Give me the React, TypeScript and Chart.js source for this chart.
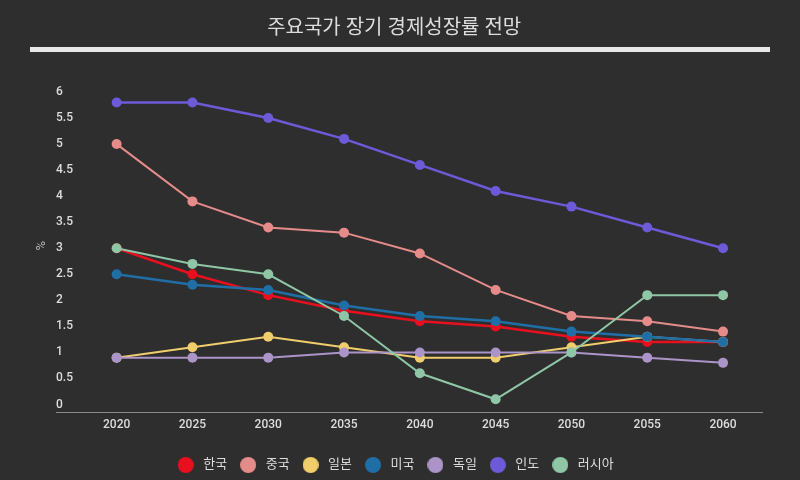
import { useEffect, useRef } from "react";
import { Chart, registerables } from "chart.js";

Chart.register(...registerables);

const TITLE = "주요국가 장기 경제성장률 전망";
const Y_TITLE = "%";
const YEARS = [2020, 2025, 2030, 2035, 2040, 2045, 2050, 2055, 2060];
const Y_TICKS = [0, 0.5, 1, 1.5, 2, 2.5, 3, 3.5, 4, 4.5, 5, 5.5, 6];

const SERIES_NAMES = ["한국", "중국", "일본", "미국", "독일", "인도", "러시아"];
const KOREA = [3.0, 2.5, 2.1, 1.8, 1.6, 1.5, 1.3, 1.2, 1.2];
const CHINA = [5.0, 3.9, 3.4, 3.3, 2.9, 2.2, 1.7, 1.6, 1.4];
const JAPAN = [0.9, 1.1, 1.3, 1.1, 0.9, 0.9, 1.1, 1.3, 1.2];
const USA = [2.5, 2.3, 2.2, 1.9, 1.7, 1.6, 1.4, 1.3, 1.2];
const GERMANY = [0.9, 0.9, 0.9, 1.0, 1.0, 1.0, 1.0, 0.9, 0.8];
const INDIA = [5.8, 5.8, 5.5, 5.1, 4.6, 4.1, 3.8, 3.4, 3.0];
const RUSSIA = [3.0, 2.7, 2.5, 1.7, 0.6, 0.1, 1.0, 2.1, 2.1];

const SERIES_VALUES = [KOREA, CHINA, JAPAN, USA, GERMANY, INDIA, RUSSIA];
const COLORS = ["#e8101f", "#e58c8a", "#f1ce6c", "#1f6fa6", "#ab94c8", "#6c5ad8", "#8ec6a6"];
const LINE_WIDTHS = [2.5, 2, 2, 2.5, 2, 2.5, 2];

const BG = "#2e2e2e";
const TEXT = "#dddddd";
const FONT = "Roboto, 'Noto Sans CJK KR', sans-serif";

const decorPlugin = {
  id: "decor",
  beforeDraw(chart: any) {
    const { ctx, width, height } = chart;
    ctx.save();
    ctx.fillStyle = BG;
    ctx.fillRect(0, 0, width, height);
    ctx.fillStyle = "#e8e8e8";
    ctx.fillRect(30, 47, width - 60, 5);
    ctx.restore();
  },
};

function circleImage(color: string, d: number) {
  const c = document.createElement("canvas");
  c.width = d;
  c.height = d;
  const g = c.getContext("2d")!;
  g.fillStyle = color;
  g.beginPath();
  g.arc(d / 2, d / 2, d / 2, 0, Math.PI * 2);
  g.fill();
  return c;
}

export default function App() {
  const ref = useRef<HTMLCanvasElement | null>(null);

  useEffect(() => {
    document.body.style.margin = "0";
    document.body.style.background = BG;
    if (!ref.current) return;
    const n = SERIES_NAMES.length;
    const legendImgs = COLORS.map((c) => circleImage(c, 16));
    const datasets = SERIES_NAMES.map((name, i) => ({
      label: name,
      data: YEARS.map((y, j) => ({ x: y, y: SERIES_VALUES[i][j] })),
      borderColor: COLORS[i],
      backgroundColor: COLORS[i],
      pointBackgroundColor: COLORS[i],
      pointBorderColor: COLORS[i],
      borderWidth: LINE_WIDTHS[i],
      pointRadius: 5,
      pointBorderWidth: 0,
      pointStyle: "circle",
      tension: 0,
      order: n - 1 - i,
    }));
    const defaultLabels = (Chart as any).defaults.plugins.legend.labels.generateLabels;
    const chart = new Chart(ref.current, {
      type: "line",
      data: { datasets },
      plugins: [decorPlugin],
      options: {
        responsive: false,
        animation: false,
        devicePixelRatio: 1,
        layout: { padding: { left: 26.4, right: 38, top: 0, bottom: -1.5 } },
        plugins: {
          title: {
            display: true,
            text: TITLE,
            color: TEXT,
            font: { family: FONT, size: 20, weight: "normal" },
            padding: { top: 17, bottom: 38.5 },
          },
          legend: {
            position: "bottom",
            labels: {
              color: TEXT,
              font: { family: FONT, size: 13 },
              usePointStyle: true,
              boxHeight: 13,
              boxWidth: 22,
              pointStyleWidth: 22,
              padding: 10,
              generateLabels: (chart: any) =>
                defaultLabels(chart)
                  .map((item: any) => ({ ...item, pointStyle: legendImgs[item.datasetIndex] }))
                  .sort((a: any, b: any) => a.datasetIndex - b.datasetIndex),
            },
          },
          tooltip: { enabled: false },
        },
        scales: {
          x: {
            type: "linear",
            min: 2016,
            max: 2062.57,
            grid: { display: false, drawTicks: false },
            border: { display: true, color: "#8a8a8a", width: 1 },
            afterBuildTicks: (s: any) => {
              s.ticks = YEARS.map((v) => ({ value: v }));
            },
            afterFit: (s: any) => {
              s.height = 36.5;
            },
            ticks: {
              color: TEXT,
              font: { family: FONT, size: 12, weight: "500" },
              padding: 6,
              maxRotation: 0,
              callback: (v: any) => String(v),
            },
          },
          y: {
            type: "linear",
            min: -0.1435,
            max: 6.24,
            grid: { display: false, drawTicks: false },
            border: { display: false },
            afterBuildTicks: (s: any) => {
              s.ticks = Y_TICKS.map((v) => ({ value: v }));
            },
            ticks: {
              mirror: true,
              padding: 0,
              crossAlign: "near",
              color: TEXT,
              font: { family: FONT, size: 12, weight: "500" },
              callback: (v: any) => String(v),
            },
            title: {
              display: true,
              text: Y_TITLE,
              color: "#bbbbbb",
              font: { family: FONT, size: 13 },
              padding: { top: 7.8, bottom: 6.2 },
            },
          },
        },
      },
    } as any);
    return () => chart.destroy();
  }, []);

  return (
    <div style={{ width: 800, height: 480, background: BG }}>
      <canvas ref={ref} width={800} height={480} />
    </div>
  );
}
